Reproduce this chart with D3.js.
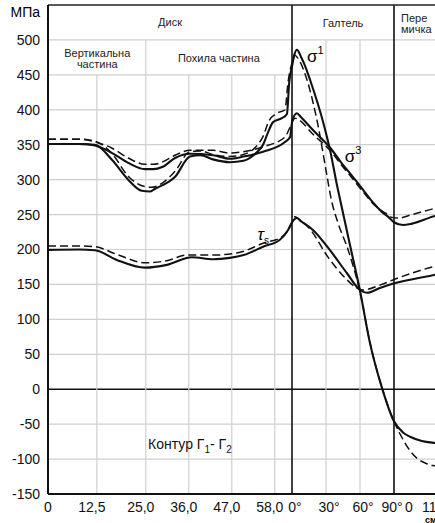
<!DOCTYPE html>
<html>
<head>
<meta charset="utf-8">
<script src="https://cdn.jsdelivr.net/npm/d3@7"></script>
<style>
  body { margin: 0; background: #fff; }
  svg { display: block; font-family: "Liberation Sans", Arial, sans-serif; }
</style>
</head>
<body>
<div id="chart"></div>
<script>
// position along the contour: disk in cm (0..62.4), fillet = 62.4 + degrees, bridge = 152.4 + cm
var yTicks = [-150, -100, -50, 0, 50, 100, 150, 200, 250, 300, 350, 400, 450, 500];
var xTickVals = [0, 12.5, 25, 36, 47, 58, 62.4, 92.4, 122.4, 152.4, 152.4, 163.9];
var xTickLabels = ["0", "12,5", "25,0", "36,0", "47,0", "58,0", "0°", "30°", "60°", "90°", "0", "11,5"];

var sigma1Solid = [[0,351],[8,351],[12,350],[16.4,328],[20.5,300],[24,284],[26,283],[27.4,287],[32.5,304],
  [36.3,333],[39,335],[42.2,329],[46.5,325],[50,327],[53,337],[55,350],[56.3,368],[57.5,382],[59.8,388],
  [61.1,394],[61.7,440],[62.4,462],[64.5,479],[66.8,486],[70.3,476],[73.9,463],[78.3,443],[90.6,378],
  [95.9,343],[102.1,292],[106.5,259],[113.6,206],[122.4,141],[131.2,66],[141.8,2],[152.4,-46],
  [154.7,-62],[156.5,-68],[159.5,-74],[162.9,-77],[164.4,-78]];
var sigma1Dashed = [[0,358],[8,358],[12,355],[16.4,337],[20.5,305],[24.8,290],[26.5,289],[29.2,295],[32.5,312],
  [36.3,340],[39,341],[42.2,336],[46.5,333],[50,336],[53,346],[55,362],[56.5,384],[58.5,395],[60.6,400],
  [61.4,440],[62.4,467],[65,478],[67,475],[70.3,466],[75.6,443],[85.3,378],[93.3,305],[97,272],[103,238],
  [111.8,200],[122.4,139],[131.2,67],[141.8,2],[152.4,-46],[154.7,-72],[156.5,-88],[158.3,-99],[160.5,-106],
  [162.9,-110],[164.4,-112]];
var sigma3Solid = [[0,351],[8,351],[12,349],[16.4,338],[20.5,324],[24.8,315],[27,315],[29.2,318],[32.5,331],
  [36.3,337],[42.2,335],[46.5,330],[50,333],[55,340],[60.6,354],[61.9,361],[62.7,385],[66.8,395],[70,390],
  [80.9,371],[95.9,346],[106.5,323],[113.6,309],[122.4,291],[135.6,264],[143,252],[147.1,247],[152.4,239],
  [154.7,235],[157,237],[162.9,248],[164.4,250]];
var sigma3Dashed = [[0,358],[8,358],[12,354],[16.4,345],[20.5,331],[24.8,322],[27,322],[29.2,325],[32.5,335],
  [36.3,342],[42.2,342],[46.5,338],[50,340],[55,347],[60.6,361],[61.9,375],[65,388],[68,386],[80.9,365],
  [95.9,342],[106.5,320],[113.6,306],[122.4,288],[135.6,263],[143,254],[146.2,251],[150.5,246],[153.5,245],
  [157,250],[162.9,259],[164.4,261]];
var tauSolid = [[0,199.5],[8,200],[12,199],[17.6,185],[24.8,174],[30.4,178],[36.8,189],[42.2,186],[46.5,188],
  [50,192],[55,204],[59.3,214],[61.4,228],[62.4,239],[66.8,245],[70,241],[80.9,228],[95.9,199],[110.9,166],
  [122.4,142],[128.6,138],[140,145],[152.7,152],[162.9,164],[164.4,166]];
var tauDashed = [[0,205],[8,205],[12,204],[17.6,193],[24.8,181],[30.4,184],[35.5,192],[42.2,192],[49.1,196],
  [55,209],[59.8,218],[61.4,228],[62.4,238],[65,247],[68,244],[78.3,229],[94.2,189],[108.3,161],[119.7,145],
  [125,142],[140,149],[152.4,157],[162.9,176],[164.4,178]];

var width = 435, height = 523;

var x = d3.scaleLinear()
  .domain([0, 62.4, 152.4, 164.4])
  .range([48, 292, 394, 441]);
var y = d3.scaleLinear()
  .domain([-150, 550])
  .range([494, 5]);

var svg = d3.select("#chart")
  .append("svg")
    .attr("width", width)
    .attr("height", height);

// horizontal grid
svg.append("g")
  .selectAll("line")
  .data(yTicks)
  .enter()
  .append("line")
    .attr("x1", x(0))
    .attr("x2", x(164.4))
    .attr("y1", function(d) { return y(d) })
    .attr("y2", function(d) { return y(d) })
    .attr("stroke", function(d) { return d == 0 ? "#111" : "#cfcfcf" })
    .attr("stroke-width", function(d) { return d == 0 ? 1.6 : 1.2 });

// vertical grid, the header rows keep only some of the lines
var vGrid = [12.5, 25, 36, 47, 58, 92.4, 122.4, 163.9];
svg.append("g")
  .selectAll("line")
  .data(vGrid)
  .enter()
  .append("line")
    .attr("x1", function(d) { return x(d) })
    .attr("x2", function(d) { return x(d) })
    .attr("y1", function(d) { return (d == 25 || d > 62.4) ? y(500) : y(450) })
    .attr("y2", y(-150))
    .attr("stroke", "#cfcfcf")
    .attr("stroke-width", 1.2);

// section borders
svg.append("g")
  .selectAll("line")
  .data([62.4, 152.4])
  .enter()
  .append("line")
    .attr("x1", function(d) { return x(d) })
    .attr("x2", function(d) { return x(d) })
    .attr("y1", y(550))
    .attr("y2", y(-150))
    .attr("stroke", "#111")
    .attr("stroke-width", 1.6);

// frame: top, left, bottom
svg.append("line").attr("x1", x(0)).attr("x2", x(164.4)).attr("y1", y(550)).attr("y2", y(550))
  .attr("stroke", "#222").attr("stroke-width", 1.6);
svg.append("line").attr("x1", x(0)).attr("x2", x(0)).attr("y1", y(550)).attr("y2", y(-150))
  .attr("stroke", "#111").attr("stroke-width", 2);
svg.append("line").attr("x1", x(0)).attr("x2", x(164.4)).attr("y1", y(-150)).attr("y2", y(-150))
  .attr("stroke", "#111").attr("stroke-width", 2);

// Y axis labels
var yAxis = d3.axisLeft(y)
  .tickValues(yTicks)
  .tickSize(0)
  .tickPadding(8)
  .tickFormat(function(d) { return String(d) });
var gy = svg.append("g")
  .attr("transform", "translate(" + x(0) + ",0)")
  .call(yAxis);
gy.select(".domain").remove();
gy.selectAll("text")
  .style("font-size", "14px")
  .style("font-family", "'Liberation Sans', Arial, sans-serif")
  .attr("fill", "#111");

svg.append("text")
  .attr("x", 40).attr("y", 17)
  .attr("text-anchor", "end")
  .style("font-size", "14px")
  .text("МПа");

// X labels
svg.append("g")
  .selectAll("text")
  .data(xTickVals)
  .enter()
  .append("text")
    .attr("x", function(d) { return x(d) })
    .attr("y", 512)
    .attr("dx", function(d, i) {
      if (i == 0) return 0;
      if (i < 6) return -5;
      if (i == 9) return -2;
      if (i == 10) return 11;
      if (i == 11) return -4;
      return 3;
    })
    .attr("text-anchor", function(d, i) { return i == 10 ? "start" : "middle" })
    .style("font-size", "14px")
    .attr("fill", "#111")
    .text(function(d, i) { return xTickLabels[i] });

svg.append("text")
  .attr("x", 425).attr("y", 523)
  .style("font-size", "9px")
  .style("font-weight", "bold")
  .text("см");

// header
var hdr = svg.append("g").style("font-size", "11px").attr("fill", "#222").attr("text-anchor", "middle");
hdr.append("text").attr("x", x(31.2)).attr("y", 26).text("Диск");
hdr.append("text").attr("x", x(107.4)).attr("y", 27).text("Галтель");
hdr.append("text").attr("x", x(12.6)).attr("y", 57).text("Вертикальна");
hdr.append("text").attr("x", x(12.6)).attr("y", 68).text("частина");
hdr.append("text").attr("x", x(43.7)).attr("y", 62).text("Похила частина");
hdr.append("text").attr("x", x(152.4) + 7).attr("y", 22).attr("text-anchor", "start").text("Пере");
hdr.append("text").attr("x", x(152.4) + 7).attr("y", 33).attr("text-anchor", "start").text("мичка");

// curves
var line = d3.line()
  .x(function(d) { return x(d[0]) })
  .y(function(d) { return y(d[1]) })
  .curve(d3.curveMonotoneX);

var curves = [
  { data: sigma1Solid, dashed: false },
  { data: sigma3Solid, dashed: false },
  { data: tauSolid, dashed: false },
  { data: sigma1Dashed, dashed: true },
  { data: sigma3Dashed, dashed: true },
  { data: tauDashed, dashed: true }
];
svg.append("g")
  .selectAll("path")
  .data(curves)
  .enter()
  .append("path")
    .attr("d", function(d) { return line(d.data) })
    .attr("fill", "none")
    .attr("stroke", "#111")
    .attr("stroke-width", function(d) { return d.dashed ? 1.5 : 2.1 })
    .attr("stroke-dasharray", function(d) { return d.dashed ? "8,4" : null });

// curve names
var s1 = svg.append("text").attr("x", x(75.6)).attr("y", y(468)).style("font-size", "17px");
s1.append("tspan").text("σ");
s1.append("tspan").attr("dy", -8).style("font-size", "11px").text("1");
var s3 = svg.append("text").attr("x", x(109)).attr("y", y(325)).style("font-size", "17px");
s3.append("tspan").text("σ");
s3.append("tspan").attr("dy", -8).style("font-size", "11px").text("3");
var ts = svg.append("text").attr("x", x(53.6)).attr("y", y(214)).style("font-size", "17px");
ts.append("tspan").style("font-style", "italic").text("τ");
ts.append("tspan").attr("dy", 4).style("font-size", "10px").text("s");

var kt = svg.append("text").attr("x", x(25.6)).attr("y", y(-85.5)).style("font-size", "14px").attr("fill", "#111");
kt.append("tspan").text("Контур Г");
kt.append("tspan").attr("dy", 4).style("font-size", "10px").text("1");
kt.append("tspan").attr("dy", -4).text("- Г");
kt.append("tspan").attr("dy", 4).style("font-size", "10px").text("2");
</script>
</body>
</html>
